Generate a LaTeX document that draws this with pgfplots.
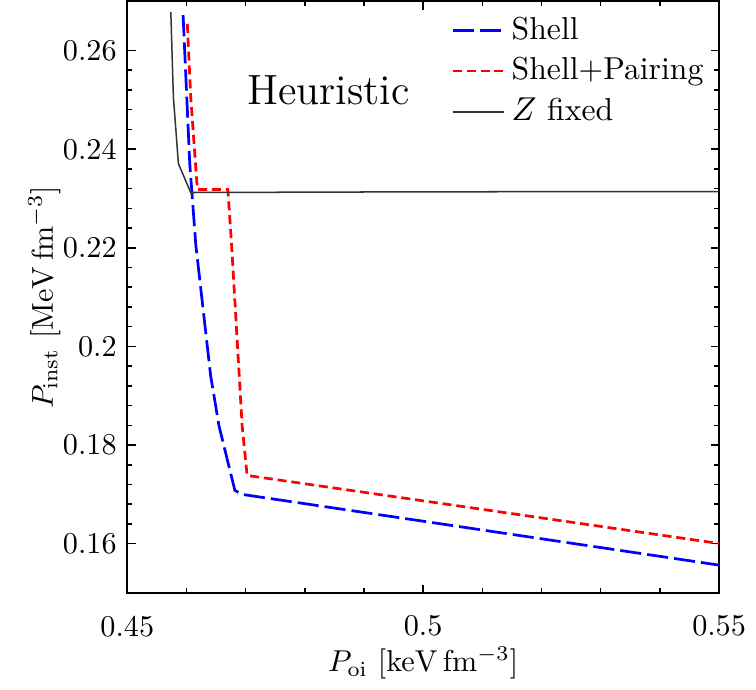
\documentclass[border=0pt]{standalone}
\usepackage{pgfplots}
\pgfplotsset{compat=1.18}

\begin{document}
\begin{tikzpicture}
\begin{axis}[
    scale only axis,
    width=196pt, height=196pt,
    xmin=0.45, xmax=0.55,
    ymin=0.15, ymax=0.27,
    xtick={0.45,0.5,0.55},
    xticklabels={0.45,0.5,0.55},
    ytick={0.16,0.18,0.2,0.22,0.24,0.26},
    yticklabels={0.16,0.18,0.2,0.22,0.24,0.26},
    minor x tick num=4,
    minor y tick num=4,
    major tick length=2.8pt,
    minor tick length=1.6pt,
    axis line style={line width=0.8pt},
    tick style={line width=0.5pt, black},
    xticklabel style={yshift=-4pt},
    xlabel shift=-3.5pt,
    ylabel shift=-6pt,
    xlabel={$P_{\mathrm{oi}}\ [\mathrm{keV\,fm^{-3}}]$},
    ylabel={$P_{\mathrm{inst}}\ [\mathrm{MeV\,fm^{-3}}]$},
    legend style={draw=none, fill=none, at={(1.0,0.995)}, anchor=north east,
        row sep=0.6pt, font=\fontsize{10.5}{12.5}\selectfont},
    legend cell align=left,
]
\addplot[blue, line width=0.9pt, dash pattern=on 7pt off 2pt] coordinates {
    (0.45943,0.26717) (0.46005,0.25061) (0.46056,0.23707) (0.46157,0.22071)
    (0.46409,0.19404) (0.46549,0.18394) (0.46818,0.17081) (0.46941,0.17000)
    (0.55,0.15566)
};
\addlegendentry{Shell}
\addplot[red, line width=0.9pt, dash pattern=on 3pt off 1.6pt] coordinates {
    (0.46015,0.26541) (0.46072,0.25061) (0.46184,0.23182) (0.46700,0.23182)
    (0.46762,0.22071) (0.46941,0.18394) (0.47025,0.17384) (0.55,0.16004)
};
\addlegendentry{Shell+Pairing}
\addplot[black!80, line width=0.5pt] coordinates {
    (0.45736,0.26778) (0.45779,0.25061) (0.45864,0.23707) (0.46072,0.23121)
    (0.50,0.23135) (0.55,0.23141)
};
\addlegendentry{$Z$ fixed}
\node[font=\fontsize{14}{16}\selectfont] at (axis cs:0.484,0.2520) {Heuristic};
\end{axis}
\path ([xshift=-6pt]current bounding box.west);
\end{tikzpicture}
\end{document}
